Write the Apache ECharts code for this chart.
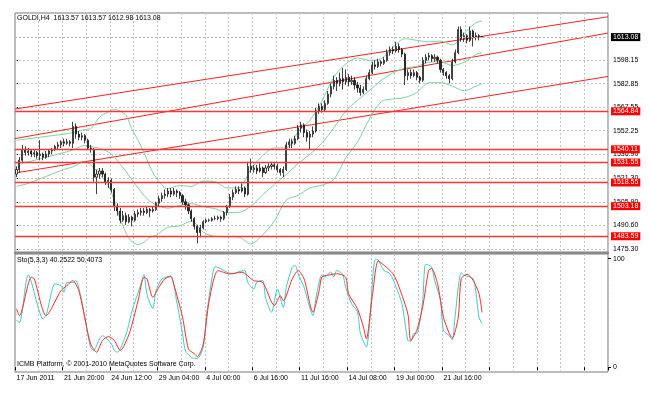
<!DOCTYPE html>
<html><head><meta charset="utf-8">
<script src="https://cdn.jsdelivr.net/npm/echarts@6/dist/echarts.min.js"></script>
<style>html,body{margin:0;padding:0;background:#fff}#c{width:650px;height:394px}</style>
</head><body><div id="c"></div>
<script>
// ---------------- data ----------------
const symbolTitle = 'GOLD!,H4  1613.57 1613.57 1612.98 1613.08';
const stochTitle = 'Sto(5,3,3) 40.2522 50.4073';
const copyright = 'ICMB Platform, \u00A9 2001-2010 MetaQuotes Software Corp.';
const totalBars = 200;
const timeLabelBars = [0, 16, 32, 48, 64, 80, 96, 112, 128, 144];
const timeLabels = ['17 Jun 2011', '21 Jun 20:00', '24 Jun 12:00', '29 Jun 04:00', '4 Jul 00:00',
  '6 Jul 16:00', '11 Jul 16:00', '14 Jul 08:00', '19 Jul 00:00', '21 Jul 16:00'];
const priceTicks = [1475.30, 1490.60, 1505.90, 1521.30, 1536.90, 1552.25, 1567.55, 1582.85, 1598.15];
const stochTicks = [0, 100];
// [open, close, low, high]
const candles = [
[1524,1527,1522,1529],[1527,1533,1525,1535],[1533,1540,1531,1543],[1540,1538,1536,1542],[1538,1539,1536,1541],
[1539,1537,1535,1540],[1537,1538,1535,1540],[1538,1536,1534,1539],[1536,1537,1533,1546],[1537,1535,1533,1538],
[1535,1537,1534,1539],[1537,1539,1535,1540],[1539,1540,1537,1541],[1540,1542,1539,1543],[1542,1543,1540,1545],
[1543,1545,1541,1546],[1545,1544,1542,1547],[1544,1545,1543,1547],[1545,1544,1542,1546],[1544,1555,1541,1558],
[1555,1550,1547,1557],[1550,1548,1546,1552],[1548,1549,1546,1551],[1549,1546,1544,1550],[1546,1541,1540,1547],
[1541,1540,1538,1543],[1540,1522,1519,1541],[1522,1524,1511,1527],[1524,1526,1521,1528],[1526,1524,1522,1528],
[1524,1519,1517,1525],[1519,1520,1515,1522],[1520,1514,1512,1521],[1514,1503,1500,1515],[1503,1500,1497,1505],
[1500,1494,1492,1502],[1494,1497,1493,1500],[1497,1493,1491,1499],[1493,1496,1492,1498],[1496,1494,1490,1497],
[1494,1498,1493,1500],[1498,1499,1496,1501],[1499,1500,1497,1502],[1500,1499,1497,1502],[1499,1501,1498,1503],
[1501,1500,1496,1502],[1500,1501,1499,1503],[1501,1505,1500,1506],[1505,1508,1503,1510],[1508,1510,1506,1512],
[1510,1511,1508,1514],[1511,1513,1509,1515],[1513,1511,1509,1515],[1511,1513,1510,1515],[1513,1512,1509,1514],
[1512,1510,1508,1513],[1510,1506,1504,1511],[1506,1504,1501,1508],[1504,1500,1498,1505],[1500,1495,1493,1501],
[1495,1490,1488,1496],[1490,1486,1479,1491],[1486,1489,1483,1491],[1489,1493,1488,1494],[1493,1494,1492,1495],
[1494,1494,1493,1495],[1494,1495,1493,1496],[1495,1495,1494,1497],[1495,1496,1494,1497],[1496,1495,1493,1497],
[1495,1499,1494,1500],[1499,1503,1497,1504],[1503,1509,1502,1511],[1509,1512,1507,1514],[1512,1514,1511,1516],
[1514,1513,1511,1516],[1513,1515,1512,1518],[1515,1511,1509,1516],[1511,1529,1510,1532],[1529,1527,1525,1534],
[1527,1528,1525,1530],[1528,1526,1524,1530],[1526,1528,1525,1531],[1528,1525,1522,1529],[1525,1528,1524,1530],
[1528,1529,1526,1531],[1529,1530,1527,1532],[1530,1529,1527,1532],[1529,1527,1525,1531],[1527,1525,1523,1528],
[1525,1527,1522,1529],[1527,1543,1526,1545],[1543,1545,1541,1547],[1545,1544,1541,1547],[1544,1547,1543,1549],
[1547,1554,1546,1556],[1554,1556,1551,1558],[1556,1551,1548,1557],[1551,1548,1545,1553],[1548,1550,1540,1552],
[1550,1552,1548,1555],[1552,1565,1551,1567],[1565,1568,1563,1570],[1568,1566,1564,1570],[1566,1570,1565,1572],
[1570,1576,1569,1578],[1576,1581,1574,1583],[1581,1585,1579,1588],[1585,1583,1578,1587],[1583,1586,1581,1590],
[1586,1584,1579,1593],[1584,1587,1582,1592],[1587,1584,1581,1589],[1584,1585,1582,1588],[1585,1582,1579,1587],
[1582,1580,1577,1584],[1580,1577,1575,1582],[1577,1579,1576,1581],[1579,1586,1578,1588],[1586,1590,1585,1592],
[1590,1595,1589,1597],[1595,1594,1592,1598],[1594,1597,1593,1599],[1597,1596,1594,1598],[1596,1598,1595,1600],
[1598,1603,1597,1605],[1603,1605,1601,1607],[1605,1604,1602,1607],[1604,1607,1603,1610],[1607,1605,1603,1609],
[1605,1602,1600,1606],[1602,1588,1582,1603],[1588,1590,1585,1592],[1590,1588,1586,1592],[1588,1590,1587,1592],
[1590,1587,1585,1591],[1587,1585,1583,1588],[1585,1598,1584,1600],[1598,1600,1596,1602],[1600,1601,1598,1603],
[1601,1599,1597,1602],[1599,1600,1597,1602],[1600,1598,1596,1601],[1598,1592,1590,1599],[1592,1590,1588,1593],
[1590,1588,1586,1591],[1588,1586,1583,1589],[1586,1597,1585,1599],[1597,1603,1596,1605],[1603,1618,1602,1620],
[1618,1612,1610,1620],[1612,1614,1610,1616],[1614,1611,1609,1615],[1611,1617,1610,1620],[1617,1613,1607,1618],
[1613,1614,1611,1616],[1614,1613.57,1611,1615],[1613.57,1613.08,1612.98,1613.57]
];
// Bollinger band readings (bar index, value)
const bandBars   = [0,4,8,12,16,19,23,25,28,31,33,35,37,39,41,43,45,47,51,55,59,63,67,71,75,79,83,87,91,95,99,103,107,111,115,119,123,127,131,135,139,143,147,151,155,157];
const upperBand  = [1546,1547,1548,1549,1550,1551,1553,1553.5,1561,1564.5,1566,1565,1562,1553,1546,1538,1529,1522,1514.5,1516.5,1516,1519.5,1519,1515,1515,1527,1536,1541,1541,1551.5,1559,1571.5,1587,1595.5,1599.5,1598,1599,1606.5,1612,1611,1610,1610.5,1608,1615.5,1622.5,1623.5];
const middleBand = [1531,1532,1534,1536,1538,1539.7,1542.5,1542,1540.7,1538.4,1535.1,1530.4,1525.5,1520,1515,1510.2,1506.2,1504.2,1501.8,1503.6,1504.8,1502.9,1501.5,1499,1499.1,1503,1510.4,1517.3,1523.8,1530.9,1537,1544.2,1554,1564.9,1572,1578.3,1584.9,1589.8,1592.9,1594.1,1596.7,1597,1594.6,1596.8,1601.8,1603];
const lowerBand  = [1516,1518,1521,1524,1527,1528.7,1532,1530,1524,1516.3,1506.7,1494.8,1485.5,1480,1478.2,1479.7,1483,1484,1489.4,1490.3,1493.5,1486.2,1483.5,1483.3,1483,1478.6,1484.4,1493.6,1507.1,1510.2,1515,1516.8,1520.5,1534.3,1544.8,1559.7,1571.1,1572.9,1573.8,1577.1,1583.4,1583.5,1581.2,1578.2,1581.2,1582.8];
// Stochastic readings
const kBars   = [0,1,4,9,10,13,15,16,17,19,20,22,24,25,26,28,29,32,33,34,37,39,42,43,44,46,47,49,52,54,56,57,59,61,63,64,66,67,69,71,73,75,77,78,80,81,83,84,86,88,90,91,93,94,95,97,100,101,103,104,106,107,108,110,111,113,115,116,118,121,122,124,126,128,130,132,133,134,135,137,138,140,141,143,144,146,147,148,150,151,154,155,156,157];
const kValues = [43,41,85,44.5,47.5,76.7,75,69,78,78,80,61,31,18.5,15.4,26,29,21.5,15.4,13.8,30.7,52,76.7,85.3,67,54,70,81,84,61,31,15,9,8,18.5,46,83,92.6,90.5,87.4,86,88,89,78,72,78,80,64,50.6,72,55,73.5,92,93.6,86,73.5,47.5,64,85,83,87.7,83,89,85.5,74,58.5,51,31,18.5,99,98.5,89,86,74,58.5,24.6,24,31,31,61.5,94.8,92.3,80,61.5,33.8,29,25,49,86.8,84.6,81.5,67.7,46,40.2522];
const dBars   = [0,1,5,6,10,15,17,19,21,23,25,27,29,31,33,35,38,41,43,44,46,48,50,52,53,56,58,60,61,63,65,68,72,76,80,83,87,89,90,93,95,97,100,102,103,105,108,111,112,115,117,118,120,122,124,127,129,132,133,135,137,139,140,142,144,146,147,149,150,152,154,156,157];
const dValues = [53.7,47.5,82.8,81.3,47.5,70.5,75,79.7,70.5,46,21.5,13.8,24.6,28.2,24.6,15.4,30.7,61.2,82.8,81.3,64.3,73.5,81.3,83.4,76.7,46,16.9,12.3,9.8,21.5,61.2,88.9,85.9,87.4,79.7,78.2,56.8,65.8,61.2,81.3,88.9,81.3,50.6,69.5,83,84.6,86,83,67.7,53.8,37,26,65,97.8,93.8,86,74,49,24.6,33.8,55.4,89,90.8,77,46,30.8,27,46,81.5,85.5,80,67.7,50.4073];
// horizontal price levels and sloped trend lines (start, end price)
const levelLines = [1564.84, 1540.11, 1531.55, 1518.55, 1503.18, 1483.59];
const trendLines = [[1566.3, 1626.3], [1547.1, 1615.7], [1524.7, 1587.5]];
const lastPrice = 1613.08;

// ---------------- chart ----------------
const FONT = 'Liberation Sans';
const FS = 7;
const cats = Array.from({length: totalBars}, (_, i) => String(i));
const labelOf = {};
timeLabelBars.forEach((b, i) => { labelOf[b] = timeLabels[i]; });
const pairs = (xs, ys) => xs.map((x, i) => [x, ys[i]]);
const vGrid = {show: true, interval: (i) => i % 8 === 0 && i > 0,
  lineStyle: {color: '#c4c4c4', type: [2, 2], width: 1}};
const txt = {fontSize: FS, color: '#000', fontFamily: FONT, fontWeight: 'normal'};
const bandStyle = {type: 'line', xAxisIndex: 0, yAxisIndex: 0, symbol: 'none', silent: true,
  smooth: 0.3, lineStyle: {color: '#7dd49c', width: 1}, z: 3};

const chart = echarts.init(document.getElementById('c'));
chart.setOption({
  animation: false,
  backgroundColor: '#fff',
  title: [
    {text: symbolTitle, left: 17, top: 15, padding: 0, textStyle: txt},
    {text: stochTitle, left: 17, top: 257, padding: 0, textStyle: txt},
    {text: copyright, left: 17, top: 361, padding: 0, textStyle: txt}
  ],
  grid: [
    {left: 15, top: 13, width: 593, height: 239, show: true, borderColor: '#7a7a7a', borderWidth: 1},
    {left: 15, top: 254, width: 593, height: 118, show: true, borderColor: '#7a7a7a', borderWidth: 1}
  ],
  graphic: [{type: 'rect', left: 14, top: 252, shape: {width: 595, height: 2}, style: {fill: '#8a8a8a'}, silent: true}],
  xAxis: [
    {type: 'category', gridIndex: 0, data: cats, axisLine: {show: false}, axisTick: {show: false},
      axisLabel: {show: false}, splitLine: vGrid},
    {type: 'value', gridIndex: 0, min: 0, max: totalBars, show: false},
    {type: 'category', gridIndex: 1, data: cats, axisLine: {show: false},
      axisTick: {show: true, interval: (i) => i % 16 === 0, length: 3, lineStyle: {color: '#000'}},
      axisLabel: {interval: (i) => i % 16 === 0, formatter: (v) => labelOf[Number(v)] || '',
        align: 'left', margin: 3, fontSize: FS, color: '#000', fontFamily: FONT},
      splitLine: vGrid}
  ],
  yAxis: [
    {type: 'value', gridIndex: 0, position: 'right', min: 1473.35, max: 1628.75,
      axisLine: {show: false}, splitLine: {show: false},
      axisTick: {show: true, customValues: priceTicks, length: 3, lineStyle: {color: '#000'}},
      axisLabel: {customValues: priceTicks, formatter: (v) => v.toFixed(2), margin: 5,
        fontSize: FS, color: '#000', fontFamily: FONT}},
    {type: 'value', gridIndex: 1, position: 'right', min: -4.4, max: 104.2,
      axisLine: {show: false}, splitLine: {show: false},
      axisTick: {show: true, customValues: stochTicks, length: 3, lineStyle: {color: '#000'}},
      axisLabel: {customValues: stochTicks, formatter: (v) => String(Math.round(v)), margin: 5,
        fontSize: FS, color: '#000', fontFamily: FONT}}
  ],
  series: [
    {type: 'line', xAxisIndex: 1, yAxisIndex: 0, data: [[0, priceTicks[0]]], symbol: 'none',
      lineStyle: {opacity: 0}, silent: true, z: 1,
      markLine: {silent: true, symbol: 'none', z: 1, animation: false, label: {show: false},
        lineStyle: {color: '#c4c4c4', type: [2, 2], width: 1},
        data: priceTicks.map(v => ({yAxis: v}))}},
    ...trendLines.map(t => ({type: 'line', xAxisIndex: 1, yAxisIndex: 0, symbol: 'none', silent: true,
      data: [[0, t[0]], [totalBars, t[1]]], lineStyle: {color: '#ff2020', width: 1}, z: 2})),
    {type: 'line', xAxisIndex: 1, yAxisIndex: 0, data: [[0, levelLines[0]]], symbol: 'none',
      lineStyle: {opacity: 0}, silent: true, z: 2,
      markLine: {silent: true, symbol: 'none', z: 6, animation: false,
        lineStyle: {color: '#ff3434', type: 'solid', width: 1.3},
        label: {show: true, position: 'end', distance: 3, formatter: (p) => p.value.toFixed(2),
          color: '#fff', backgroundColor: '#ff0000', padding: [1, 2, 0, 2], fontSize: FS, fontFamily: FONT},
        data: levelLines.map(v => ({yAxis: v})).concat([{yAxis: lastPrice,
          lineStyle: {color: '#b8b8b8', type: [2, 2], width: 1},
          label: {backgroundColor: '#000', color: '#fff'}}])}},
    {type: 'candlestick', xAxisIndex: 0, yAxisIndex: 0, data: candles, barWidth: 1.6, silent: true, z: 4,
      itemStyle: {color: '#ffffff', color0: '#2a2a2a', borderColor: '#111111', borderColor0: '#111111', borderWidth: 0.8}},
    Object.assign({data: pairs(bandBars, upperBand)}, bandStyle),
    Object.assign({data: pairs(bandBars, middleBand)}, bandStyle),
    Object.assign({data: pairs(bandBars, lowerBand)}, bandStyle),
    {type: 'line', xAxisIndex: 2, yAxisIndex: 1, data: pairs(kBars, kValues), symbol: 'none', silent: true,
      smooth: 0.25, lineStyle: {color: '#3fcbc3', width: 1}},
    {type: 'line', xAxisIndex: 2, yAxisIndex: 1, data: pairs(dBars, dValues), symbol: 'none', silent: true,
      smooth: 0.25, lineStyle: {color: '#ff2a2a', width: 1}}
  ]
});
</script></body></html>
